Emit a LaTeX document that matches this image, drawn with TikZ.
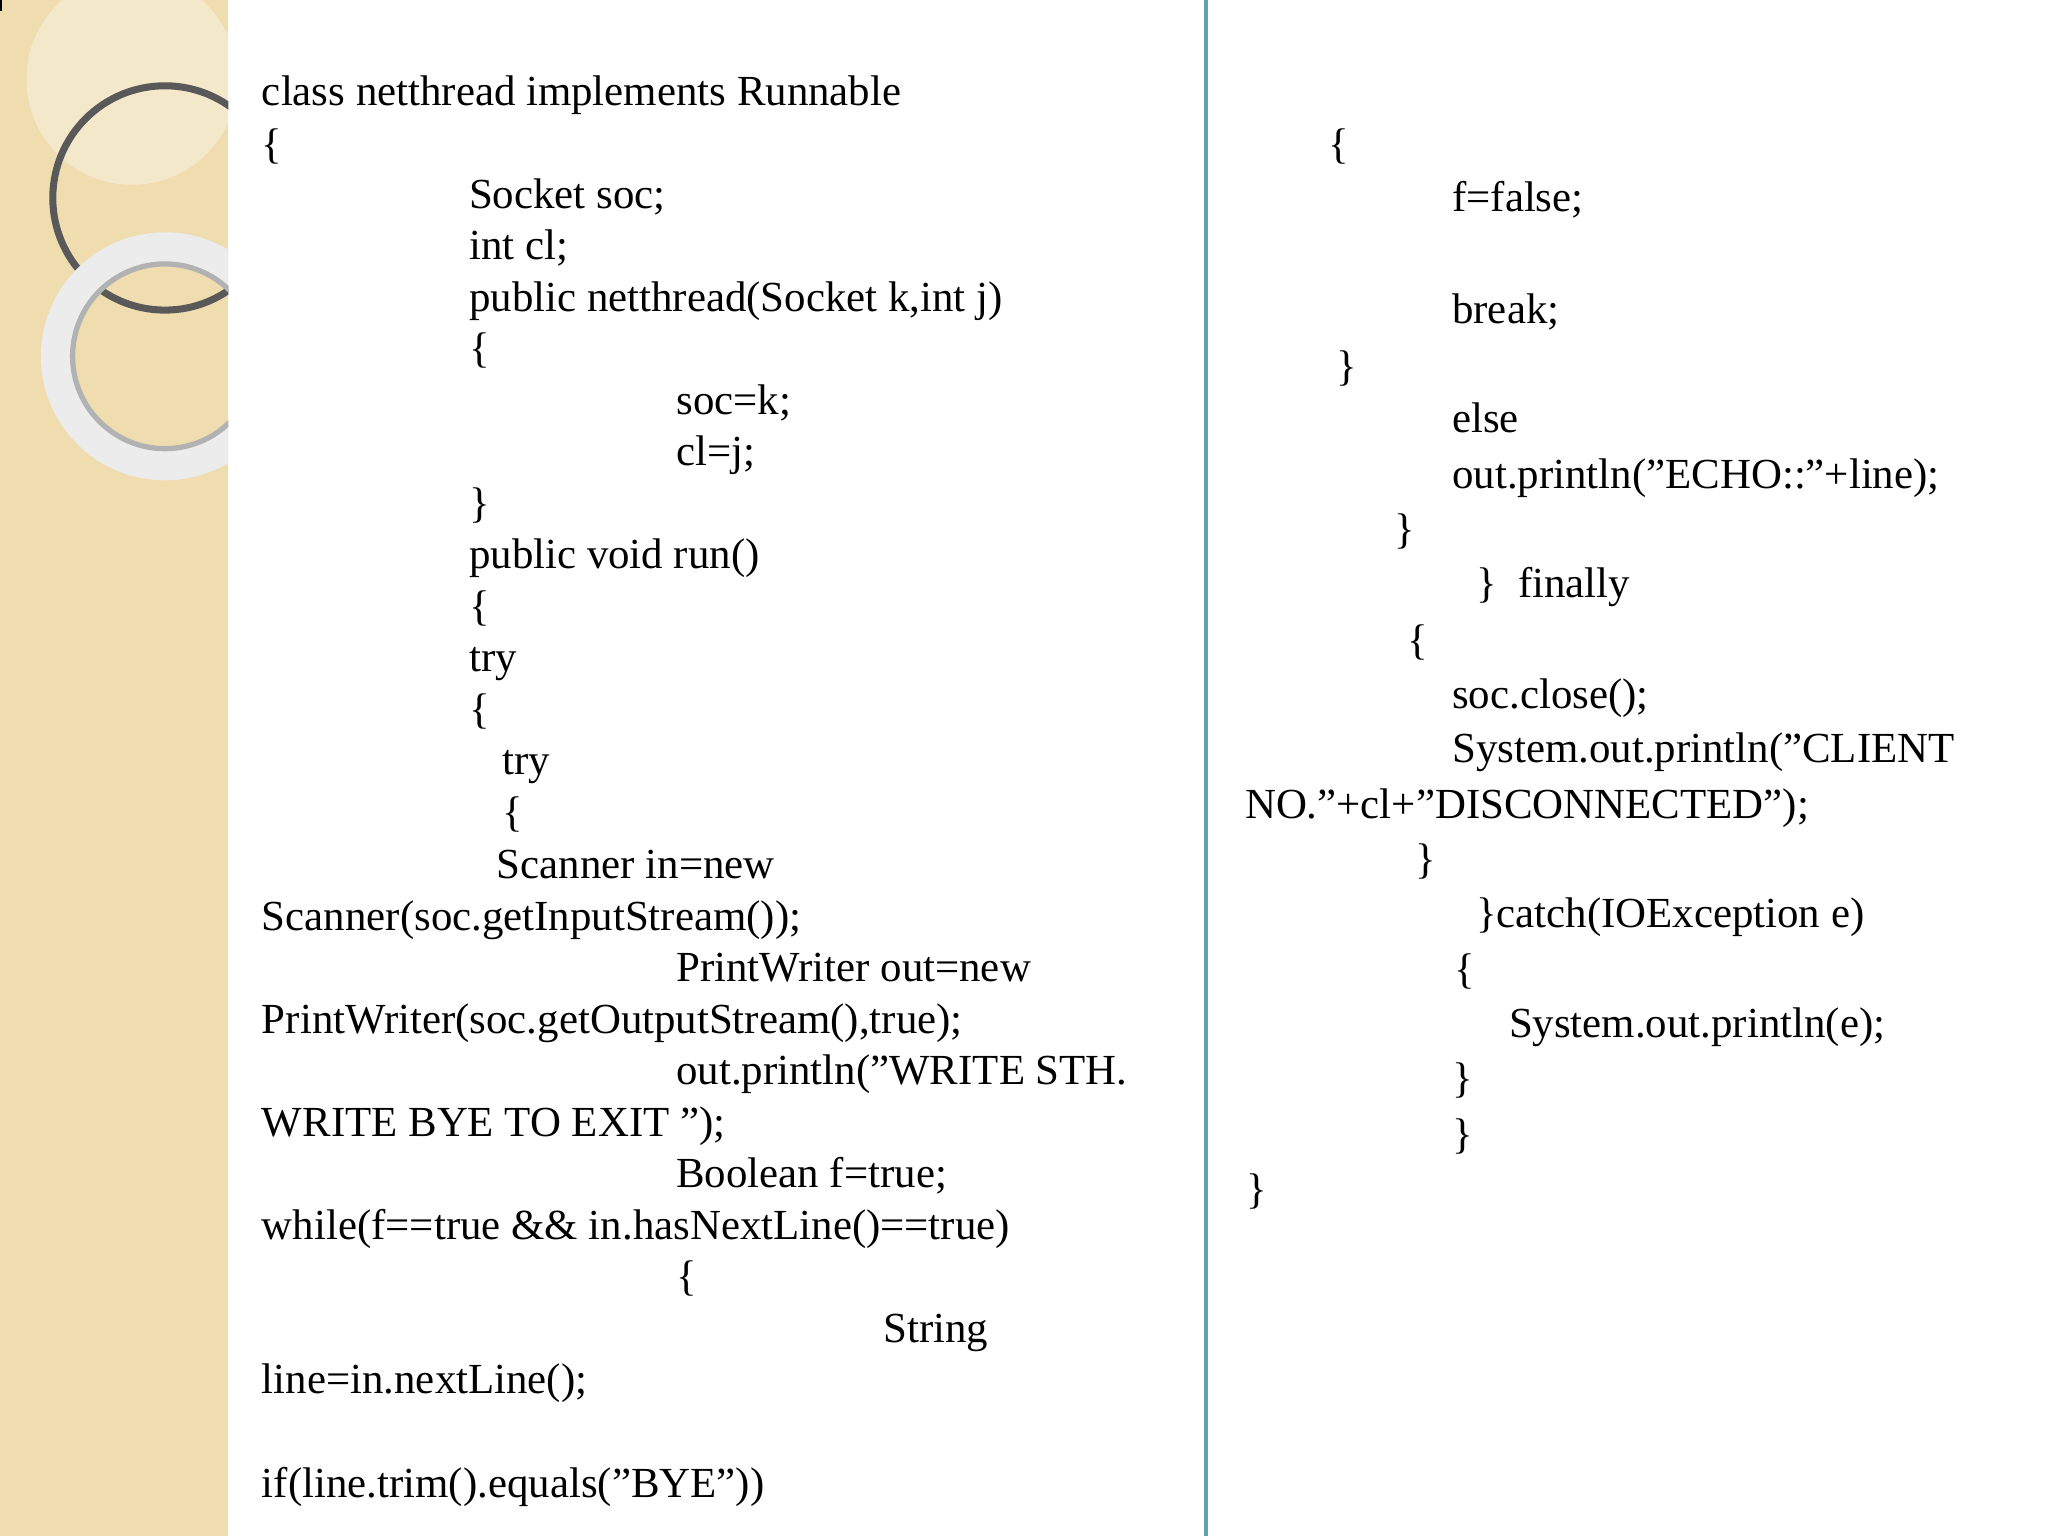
\documentclass[tikz,border=0pt]{standalone}
\usepackage{fontspec}
\setmainfont{Liberation Serif}
\definecolor{strip}{HTML}{EFDDB0}
\definecolor{rule}{HTML}{5FA3B0}
\tikzset{
  code/.style={anchor=base west, inner sep=0pt, font=\fontsize{12.2pt}{14pt}\selectfont}
}
\begin{document}
\begin{tikzpicture}[x=0.0132cm,y=-0.0132cm]
  \useasboundingbox (0,0) rectangle (1552,1164);
  % side strip
  \fill[strip] (0,0) rectangle (173,1164);
  \begin{scope}
    \clip (0,0) rectangle (173,1164);
    \fill[white,opacity=0.35] (100,60) circle (80);
    \draw[gray!70!black,line width=2pt] (125,150) circle (85);
    \draw[white!85!gray,line width=9pt] (125,270) circle (82);
    \draw[gray!60,line width=1.5pt] (125,270) circle (70);
  \end{scope}
  \draw[black,line width=1pt] (0,0) -- (0,8);
  % column rule
  \draw[rule,line width=1pt] (914,0) -- (914,1164);
  % left column
  \node[code] (l1) at (198,80) {class netthread implements Runnable};
  \node[code] (l2) at (198,120) {\{};
  \node[code] (l3) at (355,158) {Socket soc;};
  \node[code] (l4) at (355,197) {int cl;};
  \node[code] (l5) at (355,236) {public netthread(Socket k,int j)};
  \node[code] (l6) at (355,275) {\{};
  \node[code] (l7) at (512,314) {soc=k;};
  \node[code] (l8) at (512,353) {cl=j;};
  \node[code] (l9) at (355,392) {\}};
  \node[code] (l10) at (355,431) {public void run()};
  \node[code] (l11) at (355,470) {\{};
  \node[code] (l12) at (355,509) {try};
  \node[code] (l13) at (355,548) {\{};
  \node[code] (l14) at (380,587) {try};
  \node[code] (l15) at (380,626) {\{};
  \node[code] (l16) at (376,666) {Scanner in=new};
  \node[code] (l17) at (198,705) {Scanner(soc.getInputStream());};
  \node[code] (l18) at (512,744) {PrintWriter out=new};
  \node[code] (l19) at (198,783) {PrintWriter(soc.getOutputStream(),true);};
  \node[code] (l20) at (512,822) {out.println("WRITE STH.};
  \node[code] (l21) at (198,861) {WRITE BYE TO EXIT ");};
  \node[code] (l22) at (512,900) {Boolean f=true;};
  \node[code] (l23) at (198,939) {while(f==true \&\& in.hasNextLine()==true)};
  \node[code] (l24) at (512,978) {\{};
  \node[code] (l25) at (669,1017) {String};
  \node[code] (l26) at (198,1056) {line=in.nextLine();};
  \node[code] (l27) at (198,1135) {if(line.trim().equals("BYE"))};
  % right column
  \node[code] (r1) at (1006,120) {\{};
  \node[code] (r2) at (1100,160) {f=false;};
  \node[code] (r3) at (1100,245) {break;};
  \node[code] (r4) at (1012,288) {\}};
  \node[code] (r5) at (1100,328) {else};
  \node[code] (r6) at (1100,370) {out.println("ECHO::"+line);};
  \node[code] (r7) at (1056,412) {\}};
  \node[code] (r8) at (1118,453) {\}\ \ finally};
  \node[code] (r9) at (1066,496) {\{};
  \node[code] (r10) at (1100,537) {soc.close();};
  \node[code] (r11) at (1100,578) {System.out.println("CLIENT};
  \node[code] (r12) at (943,620) {NO."+cl+"DISCONNECTED");};
  \node[code] (r13) at (1072,662) {\}};
  \node[code] (r14) at (1118,703) {\}catch(IOException e)};
  \node[code] (r15) at (1102,745) {\{};
  \node[code] (r16) at (1143,786) {System.out.println(e);};
  \node[code] (r17) at (1100,828) {\}};
  \node[code] (r18) at (1100,870) {\}};
  \node[code] (r19) at (944,912) {\}};
\end{tikzpicture}
\end{document}
